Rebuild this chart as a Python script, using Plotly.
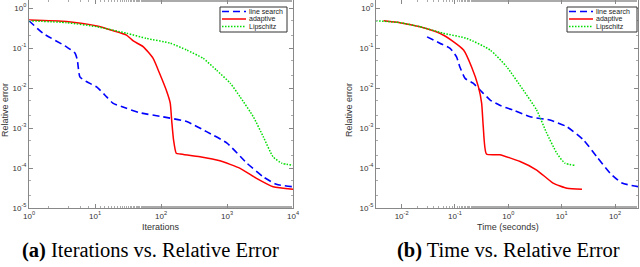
import plotly.graph_objects as go

# ---- data: (a) iterations vs relative error ----
it_ls_x = [1, 1.65, 3.7, 5.0, 5.4, 5.9, 7.4, 10.7, 15, 18.6, 30, 48, 107, 245, 490, 1000, 2000, 3550, 5600, 10000]
it_ls_y = [0.48, 0.23, 0.107, 0.074, 0.05, 0.019, 0.0145, 0.0105, 0.006, 0.0042, 0.0031, 0.0024, 0.0019, 0.00145,
           0.00081, 0.00042, 0.000132, 0.00006, 0.000039, 0.000034]
it_ad_x = [1, 3.7, 10.7, 19, 30, 38, 54, 76, 95, 120, 138, 145, 155, 170, 195, 390, 780, 1580, 2800, 5000, 10000]
it_ad_y = [0.5, 0.46, 0.355, 0.27, 0.21, 0.15, 0.107, 0.055, 0.0234, 0.0089, 0.0042, 0.00158, 0.0005, 0.000234,
           0.000224, 0.00019, 0.000151, 0.000098, 0.000055, 0.000034, 0.0000295]
it_li_x = [1, 3.7, 10.7, 30, 60, 138, 245, 436, 692, 1120, 1580, 2510, 3550, 5000, 6760, 10000]
it_li_y = [0.48, 0.43, 0.34, 0.234, 0.174, 0.132, 0.089, 0.055, 0.028, 0.0132, 0.006, 0.0019, 0.0006, 0.00019,
           0.000132, 0.000117]

# ---- data: (b) time vs relative error ----
tm_ls_x = [0.030, 0.052, 0.081, 0.107, 0.123, 0.155, 0.219, 0.295, 0.457, 0.69, 1.23, 2.57, 6.0, 12.6, 25.7, 45.7,
           81, 135, 275]
tm_ls_y = [0.19, 0.132, 0.098, 0.06, 0.034, 0.0174, 0.0132, 0.0089, 0.005, 0.0037, 0.0028, 0.0019, 0.00158, 0.00107,
           0.0005, 0.00019, 0.000074, 0.000042, 0.000034]
tm_ad_x = [0.0046, 0.0093, 0.022, 0.052, 0.093, 0.145, 0.204, 0.275, 0.316, 0.339, 0.389, 0.69, 1.66, 3.4, 6.9,
           12.6, 24]
tm_ad_y = [0.48, 0.43, 0.34, 0.234, 0.145, 0.089, 0.034, 0.0107, 0.0042, 0.00107, 0.000224, 0.000214, 0.000145,
           0.000089, 0.000042, 0.000031, 0.0000295]
tm_li_x = [0.0033, 0.0093, 0.022, 0.060, 0.166, 0.457, 0.93, 1.9, 3.4, 5.25, 8.1, 11.5, 17.8]
tm_li_y = [0.48, 0.43, 0.34, 0.234, 0.174, 0.089, 0.034, 0.0089, 0.0028, 0.00074, 0.000234, 0.000132, 0.000117]

series_names = ["line search", "adaptive", "Lipschitz"]
y_tickvals = [1e-5, 1e-4, 1e-3, 1e-2, 1e-1, 1]
y_ticktext = ["10<sup>-5</sup>", "10<sup>-4</sup>", "10<sup>-3</sup>", "10<sup>-2</sup>", "10<sup>-1</sup>", "10<sup>0</sup>"]
xa_tickvals = [1, 10, 100, 1000, 10000]
xa_ticktext = ["10<sup>0</sup>", "10<sup>1</sup>", "10<sup>2</sup>", "10<sup>3</sup>", "10<sup>4</sup>"]
xb_tickvals = [0.01, 0.1, 1, 10, 100]
xb_ticktext = ["10<sup>-2</sup>", "10<sup>-1</sup>", "10<sup>0</sup>", "10<sup>1</sup>", "10<sup>2</sup>"]

styles = [dict(color="#0000ff", width=1.6, dash="7px,4px"),
          dict(color="#ff0000", width=1.5),
          dict(color="#00dd00", width=1.5, dash="1.5px,1.5px")]

fig = go.Figure()
left = [(it_ls_x, it_ls_y), (it_ad_x, it_ad_y), (it_li_x, it_li_y)]
right = [(tm_ls_x, tm_ls_y), (tm_ad_x, tm_ad_y), (tm_li_x, tm_li_y)]
for (x, y), name, st in zip(left, series_names, styles):
    fig.add_trace(go.Scatter(x=x, y=y, mode="lines", name=name, line=dict(st, shape="spline", smoothing=0.5),
                             xaxis="x", yaxis="y", showlegend=False))
for (x, y), name, st in zip(right, series_names, styles):
    fig.add_trace(go.Scatter(x=x, y=y, mode="lines", name=name, line=dict(st, shape="spline", smoothing=0.5),
                             xaxis="x2", yaxis="y2", showlegend=False))

W, H = 640, 267
tickfont = dict(family="Liberation Sans, Arial", size=8, color="#333")
common = dict(type="log", showgrid=False, zeroline=False, showline=True, linecolor="#888", linewidth=1,
              ticks="inside", ticklen=4, tickcolor="#888", mirror="ticks", tickfont=tickfont,
              minor=dict(ticks="inside", ticklen=2, tickcolor="#aaa", showgrid=False))
ydom = [1 - 208 / H, 1.0]
fig.update_layout(
    width=W, height=H, margin=dict(l=0, r=0, t=0, b=0, autoexpand=False),
    paper_bgcolor="white", plot_bgcolor="white", showlegend=False,
    xaxis=dict(common, domain=[29 / W, 293 / W], range=[0, 4], anchor="y",
               tickvals=xa_tickvals, ticktext=xa_ticktext),
    yaxis=dict(common, domain=ydom, range=[-5, 0.2], anchor="x",
               tickvals=y_tickvals, ticktext=y_ticktext),
    xaxis2=dict(common, domain=[376 / W, 638 / W], range=[-2.48, 2.43], anchor="y2",
                tickvals=xb_tickvals, ticktext=xb_ticktext),
    yaxis2=dict(common, domain=ydom, range=[-5, 0.2], anchor="x2",
                tickvals=y_tickvals, ticktext=y_ticktext),
)

# legends (drawn as boxes with sample lines and labels)
legfont = dict(family="Liberation Sans, Arial", size=7, color="#222")
for (bx0, bx1) in [(220, 287), (567, 637)]:
    fig.add_shape(type="rect", xref="paper", yref="paper", x0=bx0 / W, x1=bx1 / W, y0=1 - 32 / H, y1=1 - 7 / H,
                  line=dict(color="#333", width=1), fillcolor="white", layer="above")
    for i, (name, st) in enumerate(zip(series_names, styles)):
        ry = 1 - (11.5 + 7.5 * i) / H
        fig.add_shape(type="line", xref="paper", yref="paper", x0=(bx0 + 2) / W, x1=(bx0 + 26) / W, y0=ry, y1=ry,
                      line=st, layer="above")
        fig.add_annotation(text=name, x=(bx0 + 27) / W, y=ry, xref="paper", yref="paper", xanchor="left",
                           yanchor="middle", showarrow=False, font=legfont)

labfont = dict(family="Liberation Sans, Arial", size=9, color="#333")
def ann(text, x, y, font, angle=0):
    fig.add_annotation(text=text, x=x / W, y=1 - y / H, xref="paper", yref="paper", xanchor="center",
                       yanchor="middle", showarrow=False, font=font, textangle=angle)

ann("Iterations", 161, 227, labfont)
ann("Time (seconds)", 508, 227, labfont)
ann("Relative error", 5, 110, labfont, -90)
ann("Relative error", 349, 110, labfont, -90)
capfont = dict(family="Liberation Serif, DejaVu Serif", size=20.5, color="black")
ann("<b>(a)</b> Iterations vs. Relative Error", 150, 250, capfont)
ann("<b>(b)</b> Time vs. Relative Error", 508, 250, capfont)

fig.write_html("out.html", config={"displayModeBar": False},
               post_script="document.body.style.margin='0';document.body.style.overflow='hidden';")
